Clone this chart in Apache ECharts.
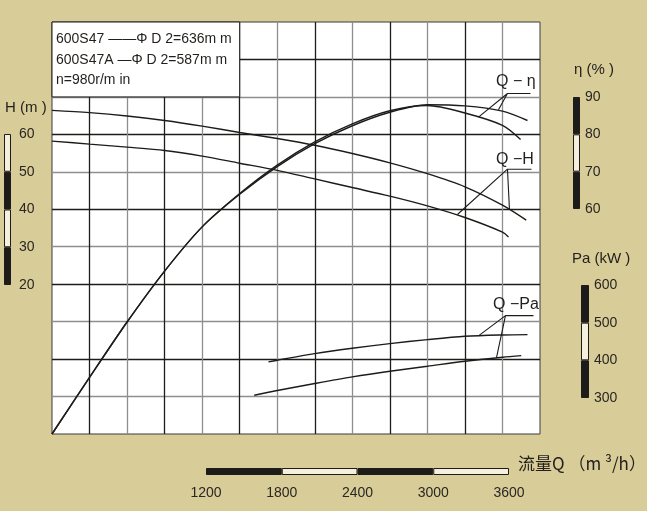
<!DOCTYPE html>
<html>
<head>
<meta charset="utf-8">
<script src="https://cdn.jsdelivr.net/npm/echarts@6/dist/echarts.min.js"></script>
<style>
    html, body { margin: 0; padding: 0; background: #d8cc98; }
    #chart { width: 647px; height: 511px; }
</style>
</head>
<body>
<div id="chart"></div>
<script>
// Q-H, 600S47 (D2=636mm)
var qH1 = [0, 300, 600, 900, 1200, 1500, 1800, 2100, 2400, 2700, 3000, 3300, 3600, 3790];
var h1 = [66.4, 65.8, 64.9, 63.7, 62.2, 60.5, 58.9, 57.1, 54.9, 52.4, 49.5, 46.0, 41.1, 37.1];
// Q-H, 600S47A (D2=587mm)
var qH2 = [0, 300, 600, 900, 1200, 1500, 1800, 2100, 2400, 2700, 3000, 3300, 3600, 3648];
var h2 = [58.2, 57.4, 56.6, 55.7, 54.2, 52.3, 50.4, 48.1, 45.8, 43.5, 40.9, 37.8, 33.9, 32.6];

// Q-eta
var qEta1 = [0, 300, 600, 900, 1200, 1500, 1800, 2100, 2400, 2700, 3000, 3300, 3600, 3800];
var eta1 = [0, 15.1, 29.9, 43.5, 55.3, 64.0, 71.4, 77.5, 82.3, 85.9, 87.9, 87.6, 86.2, 83.7];
var qEta2 = [0, 300, 600, 900, 1200, 1500, 1800, 2100, 2400, 2700, 3000, 3300, 3600, 3745];
var eta2 = [0, 15.1, 29.9, 43.5, 55.3, 64.2, 71.8, 78.0, 82.8, 86.3, 87.7, 85.7, 82.4, 78.6];

// Q-Pa
var qPa1 = [1730, 1800, 2100, 2400, 2700, 3000, 3300, 3600, 3800];
var pa1 = [392.5, 396.9, 414.7, 428.9, 441.3, 452.0, 460.9, 464.5, 465.3];
var qPa2 = [1616, 1800, 2100, 2400, 2700, 3000, 3300, 3600, 3750];
var pa2 = [303.6, 316.0, 334.7, 352.4, 367.6, 380.9, 394.2, 404.9, 409.3];

// leader lines to the curve names (Q, value on the curve's own axis)
var etaLeaderQ = [3824, 3640, 3408, 3640, 3568];
var etaLeaderV = [90.9, 90.9, 84.6, 90.9, 86.6];
var hLeaderQ = [3832, 3640, 3240, 3640, 3656];
var hLeaderV = [50.7, 50.7, 38.6, 50.7, 39.9];
var paLeaderQ = [3848, 3624, 3408, 3624, 3552];
var paLeaderV = [516, 516, 462, 516, 403];

// scale bar ticks
var hTicks = [20, 30, 40, 50, 60];
var etaTicks = [60, 70, 80, 90];
var paTicks = [300, 400, 500, 600];
var qTicks = [1200, 1800, 2400, 3000, 3600];

var ink = '#1e1c1a';
var gray = '#8e8e8e';
var cream = '#f5f0dd';
var numFont = '"Liberation Sans", Arial, sans-serif';
var cjkFont = '"Noto Sans CJK SC", "Liberation Sans", sans-serif';

function pairs(q, v) {
    var out = [];
    for (var i = 0; i < q.length; i++) {
        out.push([q[i], v[i]]);
    }
    return out;
}

function curve(q, v, yIndex) {
    return {
        type: 'line', xAxisIndex: 0, yAxisIndex: yIndex,
        data: pairs(q, v),
        smooth: 0.3,
        symbol: 'none', silent: true, z: 3,
        lineStyle: {color: ink, width: 1.4}
    };
}

function leader(q, v, yIndex) {
    return {
        type: 'line', xAxisIndex: 0, yAxisIndex: yIndex,
        data: pairs(q, v),
        symbol: 'none', silent: true, z: 3,
        lineStyle: {color: ink, width: 1.1}
    };
}

// stacked bar segments: transparent base up to ticks[0], then dark/light
function scaleBar(ticks, axisIndex) {
    var out = [];
    function seg(value, color, border) {
        return {
            type: 'bar', xAxisIndex: axisIndex, yAxisIndex: axisIndex + 2,
            stack: 'bar' + axisIndex, data: [value], barWidth: '100%',
            silent: true,
            itemStyle: {color: color, borderColor: border ? ink : 'transparent', borderWidth: border ? 1 : 0}
        };
    }
    out.push(seg(ticks[0], 'transparent', false));
    for (var i = 0; i < ticks.length - 1; i++) {
        out.push(seg(ticks[i + 1] - ticks[i], i % 2 === 0 ? ink : cream, true));
    }
    return out;
}

function scaleAxis(gridIndex, min, max, interval, position, margin) {
    return {
        gridIndex: gridIndex, type: 'value', min: min, max: max, interval: interval,
        position: position,
        axisLine: {show: false}, axisTick: {show: false}, splitLine: {show: false},
        axisLabel: {margin: margin, color: '#2a2724', fontSize: 14, fontFamily: numFont,
            formatter: function (v) { return String(v); }}
    };
}

function bandAxis(gridIndex) {
    return {gridIndex: gridIndex, type: 'category', data: [''], show: false, boundaryGap: true};
}

function text(str, x, y, size, family, align) {
    return {
        type: 'text', silent: true, z: 100,
        style: {
            text: str, x: x, y: y, fill: '#221f1c',
            font: size + 'px ' + family,
            textAlign: align || 'left', textVerticalAlign: 'middle', verticalAlign: 'middle'
        }
    };
}

var chart = echarts.init(document.getElementById('chart'));

var series = [
    curve(qH1, h1, 0),
    curve(qH2, h2, 0),
    curve(qEta1, eta1, 1),
    curve(qEta2, eta2, 1),
    curve(qPa1, pa1, 2),
    curve(qPa2, pa2, 2),
    leader(etaLeaderQ, etaLeaderV, 1),
    leader(hLeaderQ, hLeaderV, 0),
    leader(paLeaderQ, paLeaderV, 2),
    {
        // white legend box in the top left corner
        type: 'line', xAxisIndex: 0, yAxisIndex: 0, data: [[0, 90]], symbol: 'none', silent: true,
        markArea: {
            silent: true,
            itemStyle: {color: '#ffffff', borderColor: ink, borderWidth: 1},
            data: [[{coord: [0, 90]}, {coord: [1500, 70]}]]
        }
    }
];
series = series.concat(scaleBar(hTicks, 1), scaleBar(etaTicks, 2), scaleBar(paTicks, 3), scaleBar(qTicks, 4));

var option = {
    backgroundColor: '#d8cc98',
    animation: false,
    grid: [
        {left: 52, top: 22, width: 488, height: 412, show: true, backgroundColor: '#ffffff',
            borderColor: '#3a3a3a', borderWidth: 1, outerBoundsMode: 'none'},
        {left: 4, top: 134, width: 7, height: 151, outerBoundsMode: 'none'},
        {left: 573, top: 97, width: 7, height: 112, outerBoundsMode: 'none'},
        {left: 581, top: 285, width: 8, height: 113, outerBoundsMode: 'none'},
        {left: 206, top: 468, width: 303, height: 7, outerBoundsMode: 'none'}
    ],
    xAxis: [
        {
            gridIndex: 0, type: 'value', min: 0, max: 3900, interval: 300,
            axisLabel: {show: false}, axisTick: {show: false}, axisLine: {show: false},
            splitLine: {show: true, showMinLine: false, showMaxLine: false,
                lineStyle: {color: [ink, gray], width: 1.3}}
        },
        bandAxis(1),
        bandAxis(2),
        bandAxis(3),
        scaleAxis(4, 1200, 3600, 600, 'bottom', 11)
    ],
    yAxis: [
        {
            gridIndex: 0, type: 'value', min: -20, max: 90, interval: 10,
            axisLabel: {show: false}, axisTick: {show: false}, axisLine: {show: false},
            splitLine: {show: true, showMinLine: false, showMaxLine: false,
                lineStyle: {color: [gray, ink], width: 1.3}}
        },
        {gridIndex: 0, type: 'value', min: 0, max: 110, show: false},
        {gridIndex: 0, type: 'value', min: 200, max: 1300, show: false},
        scaleAxis(1, 20, 60, 10, 'right', 8),
        scaleAxis(2, 60, 90, 10, 'right', 5),
        scaleAxis(3, 300, 600, 100, 'right', 5),
        bandAxis(4)
    ],
    series: series,
    graphic: [
        text('600S47 ——Φ D 2=636m m', 56, 39, 14, numFont),
        text('600S47A —Φ D 2=587m m', 56, 60, 14, numFont),
        text('n=980r/m in', 56, 80, 14, numFont),
        text('H (m )', 5, 108, 15, numFont),
        text('η (% )', 574, 70, 15, numFont),
        text('Pa (kW )', 572, 259, 15, numFont),
        text('流量Q （m ³/h）', 518, 464, 17, cjkFont),
        text('Q − η', 496, 82, 16, numFont),
        text('Q −H', 496, 160, 16, numFont),
        text('Q −Pa', 493, 305, 16, numFont)
    ]
};

chart.setOption(option);
</script>
</body>
</html>
